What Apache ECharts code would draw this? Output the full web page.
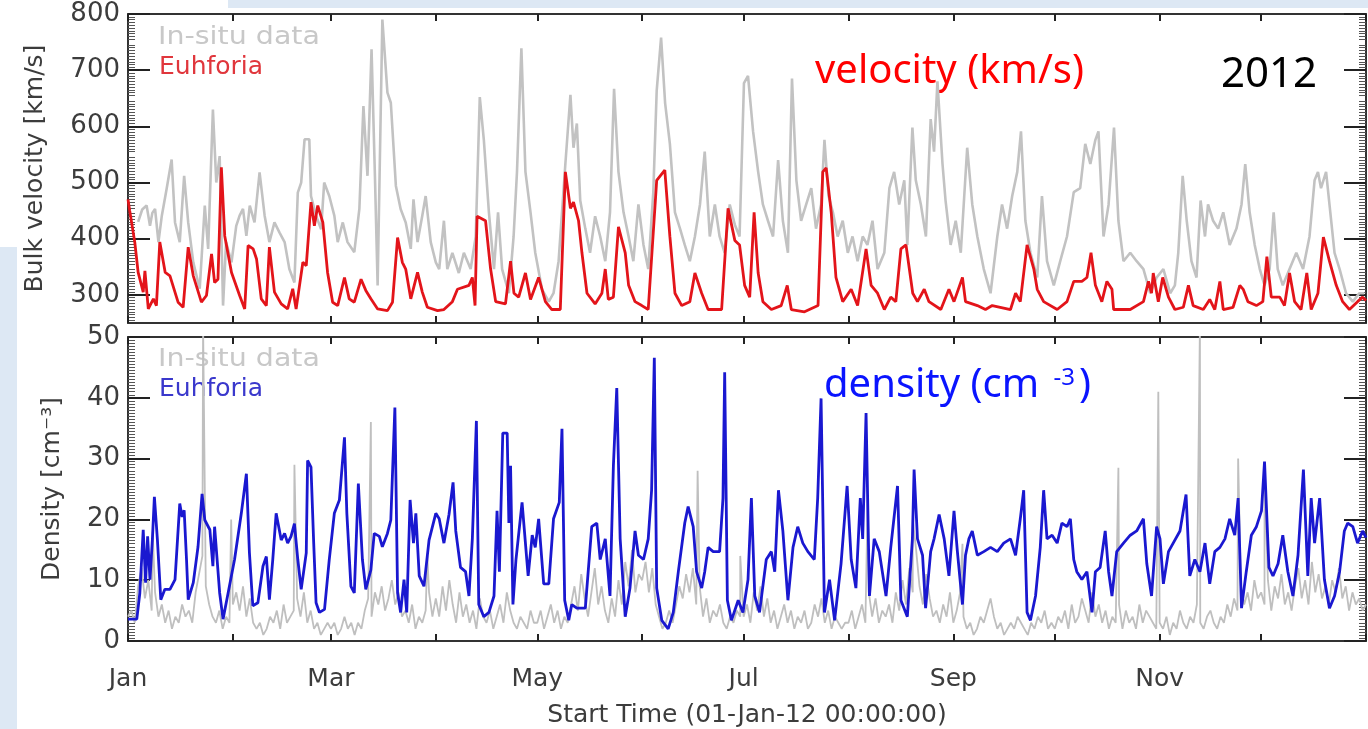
<!DOCTYPE html>
<html>
<head>
<meta charset="utf-8">
<script src="https://cdn.jsdelivr.net/npm/echarts@6/dist/echarts.min.js"></script>
<style>
  html, body { margin: 0; padding: 0; background: #fff; }
  #main { width: 1368px; height: 729px; }
</style>
</head>
<body>
<div id="main"></div>
<script>
// x values are day of year 2012 (0 = 1 Jan)
var monthStarts = [0, 31, 60, 91, 121, 152, 182, 213, 244, 274, 305, 335, 366];
var labelDays = [0, 60, 121, 182, 244, 305];
var labelNames = ['Jan', 'Mar', 'May', 'Jul', 'Sep', 'Nov'];
var velTicks = [300, 400, 500, 600, 700, 800];
var densTicks = [0, 10, 20, 30, 40, 50];

// bulk velocity, model (red)
var velocityEuhforia = [
  [0,470],[0.5,450],[2,394],[3,340],[4.5,305],[5,343],[6,275],[7.5,293],[8.4,281],[9.4,394],[11,340],[12.4,334],
  [14.8,287],[16.3,278],[17.8,385],[19.3,334],[21.7,287],[23.2,299],[24.7,373],[25.6,322],[26.6,328],[27.6,527],
  [28.6,405],[30.6,340],[33,299],[34.5,275],[35.5,388],[37,382],[38,364],[39.4,293],[40.9,281],[41.8,385],[43.3,305],
  [45.3,284],[47.2,275],[48.7,311],[49.7,275],[51.7,358],[52.7,352],[54.1,465],[55.1,423],[56.1,459],[57.6,429],
  [59,340],[60.5,287],[62,281],[64,331],[65.4,293],[66.9,287],[68.9,328],[70.3,308],[71.8,293],[73.8,275],[76.7,272],
  [78.2,287],[79.7,402],[81.1,358],[82.1,346],[83.6,293],[85.6,340],[87,305],[88.5,278],[91.5,272],[93.4,274],
  [95.9,288],[97.4,310],[100.8,317],[101.8,331],[102.6,281],[103.2,440],[105.7,432],[107.2,346],[108.7,288],
  [111.6,284],[113.1,360],[114.1,303],[115.5,296],[117.5,339],[119,292],[121.4,331],[123.4,288],[125.3,274],
  [127.8,274],[129.3,519],[130.8,454],[131.7,465],[133.2,432],[134.2,375],[135.7,303],[138.1,284],[140.1,303],
  [141.1,346],[142,292],[143.5,296],[145,421],[147,375],[148,317],[149.9,288],[151.9,281],[153.8,274],[156.3,504],
  [158.7,522],[160.2,404],[161.7,303],[163.7,281],[166.1,288],[167.6,339],[169.6,303],[171.5,274],[175.5,274],
  [177.4,454],[179.4,397],[180.8,389],[182.3,317],[183.8,296],[185.1,447],[186.3,339],[187.7,288],[190.2,274],
  [193.1,281],[194.9,317],[196.1,274],[200,270],[204,281],[205.4,519],[206.4,526],[207.9,447],[209.3,331],
  [211.3,288],[213.8,310],[215.7,281],[218.2,382],[219.7,317],[221.6,303],[223.6,274],[225.5,296],[227,288],
  [228.5,382],[230,389],[231,346],[232,303],[233.4,288],[235.4,310],[236.8,288],[240.3,274],[242.7,310],[244.2,288],
  [246.7,331],[247.6,288],[251.1,281],[253.5,274],[255.5,281],[260.9,274],[262.4,303],[263.8,288],[265.8,389],
  [267.8,346],[268.8,310],[270.7,288],[274.7,274],[277.6,288],[279.6,324],[282,324],[283.5,331],[284.7,375],
  [286,317],[287.9,288],[289.4,324],[290.9,310],[291.4,274],[296.3,274],[300.2,288],[301.7,324],[302.6,303],
  [303.1,339],[304.6,288],[305.9,331],[307.6,296],[309.5,274],[312,278],[313.5,317],[314.9,281],[317.9,274],
  [319.8,292],[321.3,274],[322.8,324],[323.8,274],[326.7,278],[328.7,317],[329.7,310],[331.1,288],[333.6,281],
  [335.5,288],[336.7,368],[338,296],[340.5,296],[341.9,281],[343.4,339],[344.9,288],[346.8,274],[348.5,339],
  [349.8,274],[351.8,303],[353.4,403],[355.2,360],[357.2,317],[359.1,288],[361.1,274],[363.5,288],[365,296],[366,290]
];

// bulk velocity, in-situ (grey)
var velocityInsitu = [
  [3,430],[4.2,452],[5.5,459],[6.5,423],[7.2,446],[8,453],[9,394],[10,441],[11.4,488],[12.9,541],[13.9,429],
  [15.3,394],[16.6,512],[17.8,429],[19.3,358],[21.2,311],[22.7,459],[23.7,382],[25.1,630],[26.1,500],[27.1,547],
  [28.1,281],[29,394],[30.6,358],[32,423],[33,441],[34,453],[35,405],[36,459],[37.4,429],[38.9,518],[40.4,441],
  [41.8,394],[43.3,429],[44.8,411],[46.3,394],[47.7,346],[49.2,322],[50.2,482],[51.2,500],[52.2,577],[53.6,577],
  [54.1,476],[55.6,441],[57.1,417],[58,500],[59.5,476],[61,441],[62,394],[63.5,429],[64.9,394],[66.9,376],
  [68.4,453],[69.6,636],[70.8,512],[72,737],[73,512],[73.8,317],[75.2,790],[76.7,660],[77.7,642],[79.2,494],
  [80.6,453],[82.1,429],[83.6,382],[84.4,470],[85.6,394],[87,441],[88,476],[89.5,394],[91,358],[92,346],
  [93.4,432],[94.4,346],[95.9,375],[97.8,339],[99.3,375],[101.3,346],[102.8,404],[104,652],[105.2,576],
  [106.7,447],[108.2,346],[109.4,447],[110.6,346],[112.6,303],[114,404],[115,519],[116.3,739],[117.5,519],
  [119,447],[120.4,375],[122.4,310],[124.4,288],[125.8,303],[127.3,360],[129.3,533],[130.8,656],[131.7,562],
  [132.7,605],[133.7,468],[135.2,418],[136.6,375],[138.1,440],[139.6,404],[141.1,360],[142.5,447],[143.7,667],
  [145,519],[146.5,447],[148,404],[149.4,360],[150.9,461],[152.4,389],[153.8,346],[155.3,483],[156.3,663],
  [157.6,758],[158.8,641],[160.2,569],[161.7,447],[163.2,418],[164.6,389],[166.1,360],[167.6,404],[169.1,461],
  [170.5,555],[172,404],[173.5,461],[174.9,404],[176.4,375],[177.9,461],[179.4,425],[180.8,404],[182.1,677],
  [183.3,690],[184.8,591],[186.3,519],[187.7,461],[189.2,432],[190.7,404],[192.2,540],[193.6,432],[195.1,375],
  [196.3,685],[197.6,504],[199,432],[200.5,461],[202,490],[203.4,418],[204.9,461],[205.9,576],[207.1,476],
  [208.4,447],[209.8,404],[211.3,432],[212.8,375],[214.2,404],[215.7,360],[217.2,404],[218.6,389],[220.1,432],
  [221.6,346],[223.6,375],[225.1,490],[226.5,519],[228,461],[229.5,504],[230.4,389],[231.9,598],[232.9,504],
  [234.4,461],[235.9,404],[237.3,613],[238.3,555],[239.3,680],[240.8,533],[241.7,468],[243.2,389],[244.7,432],
  [246.2,375],[248.1,562],[249.6,461],[251.1,404],[253,346],[255,303],[257,404],[258.4,461],[259.9,418],
  [261.4,476],[262.9,519],[264,591],[265.3,432],[266.8,375],[268.8,331],[270.2,476],[271.7,360],[273.7,317],
  [275.6,360],[277.6,404],[279.6,483],[281.5,490],[283,569],[284.5,533],[286,576],[286.9,591],[288.4,404],
  [289.9,461],[291.5,598],[292.8,432],[294.3,360],[296.3,375],[298.2,360],[300.2,346],[302.2,303],[304.1,331],
  [306.1,346],[308.1,303],[309.5,317],[310.5,375],[311.8,512],[313,432],[314.4,360],[315.9,331],[317.1,468],
  [318.4,404],[319.3,461],[320.8,432],[322.3,418],[323.8,447],[325.7,389],[327.7,418],[329.2,461],[330.3,533],
  [331.6,447],[333.1,389],[334.6,346],[336,317],[337.5,346],[338.7,447],[339.9,346],[341.4,317],[343.4,346],
  [345.4,375],[347.4,346],[349.3,404],[350.8,504],[351.8,519],[352.7,490],[354.2,519],[355.2,461],[356.7,375],
  [358.2,346],[360.1,303],[362.1,288],[364,303],[365.5,303]
];

// density, model (blue)
var densityEuhforia = [
  [0,3.6],[1.1,3.6],[2.6,3.6],[3.5,7.9],[4.5,18.3],[5.2,9.6],[5.8,17.2],[6.5,10.1],[7.2,16.6],[7.8,23.7],[8.7,16.6],
  [9.7,6.8],[10.9,8.5],[12.4,8.5],[13.9,10.1],[15.3,22.6],[16,20.4],[16.6,21.5],[17.3,13.4],[17.8,6.8],[19.3,9.6],
  [20.7,15.5],[21.9,24.2],[22.7,19.9],[24.2,18.3],[25.1,12.3],[25.6,18.8],[27.1,7.9],[28.1,3.6],[29.6,7.9],
  [31.5,13.4],[33.5,21],[35,27.5],[35.9,14.5],[36.9,5.8],[38.4,6.3],[39.9,12.3],[40.9,13.9],[41.8,6.8],[42.8,13.4],
  [43.8,21],[45.3,16.6],[46.3,17.7],[47.2,16.1],[48.2,17.2],[49.2,19.3],[50.2,13.4],[51.2,8.5],[52.7,14.5],
  [53.1,29.7],[54.1,28.6],[54.9,16.1],[55.6,6.3],[56.6,4.7],[58.1,5.2],[59.5,13.4],[61,21],[62.5,23.2],[64,33.5],
  [64.7,21],[65.9,9],[66.9,7.9],[68.1,25.9],[69.3,13.4],[70.3,8.5],[71.8,11.7],[72.8,17.7],[74.3,17.2],[75.2,15.5],
  [76.7,17.7],[77.7,19.9],[78.9,38.4],[79.7,7.9],[80.6,4.7],[81.6,10.1],[82.4,4.7],[83.4,23.2],[84.4,16.1],
  [85.1,21],[86.1,10.7],[87.5,9],[89,16.6],[91,21],[92,20.1],[93.4,16.1],[94.9,20.8],[96.1,26.1],[96.9,18.1],
  [98.3,12.1],[99.8,11.4],[100.8,7.4],[101.8,16.8],[103,36.2],[103.7,6],[105.2,4],[106.7,4.7],[108.2,7.4],
  [109.1,21.4],[109.8,11.4],[110.8,34.2],[112.1,34.2],[112.6,19.4],[113.1,28.8],[113.8,6],[114.7,13.4],
  [116.5,22.8],[118.3,10.7],[119.5,17.4],[120.4,15.4],[121.4,20.1],[122.9,9.4],[124.4,9.4],[125.8,20.1],
  [127.5,22.8],[128.3,34.9],[129.1,6.7],[130.3,3.4],[131.2,6],[132.7,5.4],[135.2,5.4],[137.1,18.8],[138.6,19.4],
  [139.6,13.4],[141.1,16.8],[142.5,7.4],[143.5,28.8],[144.5,41.6],[145.5,16.8],[147,4],[148.4,8.7],[149.9,18.1],
  [150.9,14.1],[152.4,13.4],[153.8,16.8],[154.8,24.8],[155.6,46.6],[156.3,8.7],[157.8,3.4],[159.7,2],[161.2,4.7],
  [162.7,11.4],[164.6,19.4],[165.6,22.1],[167.1,18.8],[168.1,11.4],[169.6,8.7],[170.5,11.4],[171.5,15.4],
  [173,14.7],[174.9,14.7],[175.9,23.5],[176.4,44.2],[177.2,6.7],[178.4,3.4],[180.4,6.7],[181.8,4.7],[183.3,10.1],
  [184.3,23.5],[185.3,7.4],[186.7,4.7],[188.7,13.4],[190.2,14.7],[191.2,11.4],[192.3,24.8],[193.6,18.1],
  [195.1,6.7],[196.6,15.4],[198,18.8],[199.5,16.1],[201,14.7],[202.9,13.4],[203.9,23.5],[204.9,39.9],[205.9,4.7],
  [207.4,10.1],[208.9,3.4],[210.8,12.7],[212.6,25.5],[213.8,13.4],[215.2,8.7],[216.5,23.5],[217.2,16.8],
  [218.2,37.5],[219.2,7.4],[220.6,16.8],[222.1,14.7],[224.1,7.4],[225.5,15.4],[227.5,25.5],[228.5,6.7],
  [230.4,4],[231.9,16.8],[232.4,28.2],[233.4,16.8],[234.9,14.1],[235.8,5.4],[237.3,14.7],[238.3,16.8],
  [239.8,20.8],[241.3,16.8],[242.7,10.7],[244.2,21.4],[245.2,14.7],[246.7,6],[247.6,14.1],[248.6,16.8],
  [249.6,18.1],[251.1,14.1],[253,14.7],[255,15.4],[257,14.7],[258.9,16.1],[260.9,16.8],[262.4,14.1],[263.8,20.1],
  [264.8,24.8],[265.8,4.7],[266.8,3.4],[268.3,7.4],[269.7,15.4],[270.7,24.8],[271.7,16.8],[273.2,17.4],
  [274.7,16.1],[276.1,19.4],[277.6,18.8],[278.6,20.1],[279.6,13.4],[280.5,11.4],[282,10.1],[283.5,11.4],
  [285,4.7],[286,11.4],[287.4,12.1],[288.9,18.1],[289.9,11.4],[290.9,7.4],[292.3,14.7],[294.3,16.1],[296.3,17.4],
  [298.2,18.1],[300.2,20.1],[301.2,12.7],[302.6,7.4],[304.1,18.8],[305.1,16.8],[306.1,9.4],[307.6,14.7],
  [309,16.1],[311,18.1],[312.8,24.1],[313.9,10.7],[315.4,13.4],[316.9,11.4],[318.4,16.1],[319.8,9.4],[321.3,14.7],
  [322.8,15.4],[324.3,16.8],[325.7,20.1],[327.2,17.4],[328.2,23.5],[329.2,5.4],[330.6,11.4],[332.1,17.4],
  [333.6,18.8],[335.1,21.4],[336,29.5],[337.3,12.1],[338.5,10.7],[340,12.7],[341.4,17.4],[342.9,11.4],
  [344.4,7.4],[345.9,14.1],[347.5,28.2],[348.8,10.7],[349.8,23.5],[350.8,16.1],[352.3,23.5],[353.7,10.1],
  [355.2,5.4],[356.7,7.4],[358.2,11.4],[359.6,18.1],[360.6,19.4],[362.1,18.8],[363.5,16.1],[365,18.1],[366,17]
];

// density, in-situ (grey): one reading per day, month by month, plus short spikes
var densInsituJan = [4,5,3,9,12,7,10,5,8,4,6,3,5,2,4,3,6,4,5,3,8,11,14,9,6,4,3,5,2,4,3];
var densInsituFeb = [6,8,5,9,4,7,3,2,3,1,2,4,3,5,2,6,3,4,5,7,4,8,3,5,2,3,1,2,3];
var densInsituMar = [2,3,1,2,4,2,3,1,3,2,5,7,4,8,6,9,5,7,10,6,8,4,5,3,6,2,4,3,5,8,4];
var densInsituApr = [7,4,9,5,10,6,3,8,4,6,3,5,2,7,4,3,5,2,4,6,3,8,5,3,2,4,3,2,5,3];
var densInsituMay = [3,5,2,4,6,3,5,2,4,3,6,9,5,11,7,4,8,12,6,9,5,3,7,4,10,6,13,9,15,8,11];
var densInsituJun = [10,13,8,12,6,4,2,3,5,3,6,9,7,11,8,12,6,9,4,7,3,5,4,6,3,2,4,3,5,4];
var densInsituJul = [4,6,3,8,5,9,4,7,3,5,2,4,6,3,5,2,4,3,5,2,3,6,4,7,3,5,2,4,3,2,3];
var densInsituAug = [3,5,2,4,6,3,8,4,7,3,5,4,6,3,8,5,10,6,12,8,15,9,6,11,7,4,5,3,6,4,8];
var densInsituSep = [3,5,8,4,2,3,1,2,4,3,5,7,4,2,3,1,2,3,2,4,3,2,1,3,2,4,3,5,2,3];
var densInsituOct = [2,4,3,5,2,6,3,4,7,5,3,8,4,6,3,5,2,4,3,6,2,5,3,4,2,6,3,5,4,3,2];
var densInsituNov = [3,2,4,1,3,2,5,3,2,4,3,6,3,2,4,5,3,2,4,3,6,4,7,5,9,6,8,5,10,7];
var densInsituDec = [8,6,10,5,9,7,11,6,8,5,9,12,7,10,6,13,8,11,7,9,6,10,8,12,7,9,5,8,6,7,5,6];
var densInsituSpikes = [
  [7.3,18],[22.2,52],[30.5,20],[49.2,29],[71.8,36],[88.5,14],[168.4,28],[181,14],[218.7,24],
  [232,20],[246.7,16],[292.8,28.5],[304.6,41],[316.9,52],[328.2,30],[336,28]
];

var densInsituDaily = [].concat(densInsituJan, densInsituFeb, densInsituMar, densInsituApr,
  densInsituMay, densInsituJun, densInsituJul, densInsituAug, densInsituSep, densInsituOct,
  densInsituNov, densInsituDec);
var densityInsitu = densInsituDaily.map(function (v, i) { return [i, v]; })
  .concat(densInsituSpikes)
  .sort(function (a, b) { return a[0] - b[0]; });

var FONT = 'DejaVu Sans';
var AXIS_COL = '#333';
var TXT_COL = '#3c3c3c';

function xAx(grid, pos, withLabels) {
  return {
    type: 'value', gridIndex: grid, position: pos, min: 0, max: 366,
    axisLine: { show: true, onZero: false, lineStyle: { color: AXIS_COL, width: 2 } },
    axisTick: { show: true, inside: true, length: 7, customValues: monthStarts, lineStyle: { color: '#222', width: 2 } },
    axisLabel: withLabels ? {
      show: true, customValues: labelDays, margin: 26,
      fontFamily: FONT, fontSize: 25, color: TXT_COL,
      formatter: function (v) { var i = labelDays.indexOf(v); return i >= 0 ? labelNames[i] : ''; }
    } : { show: false },
    splitLine: { show: false },
    name: withLabels ? 'Start Time (01-Jan-12 00:00:00)' : '',
    nameLocation: 'middle', nameGap: 62,
    nameTextStyle: { fontFamily: FONT, fontSize: 25, color: TXT_COL }
  };
}

function yAx(grid, pos, min, max, interval, ticks, minorSplit, name, nameGap) {
  var left = pos === 'left';
  return {
    type: 'value', gridIndex: grid, position: pos, min: min, max: max, interval: interval,
    axisLine: { show: true, onZero: false, lineStyle: { color: AXIS_COL, width: 2 } },
    axisTick: { show: true, inside: true, length: 22, customValues: ticks, lineStyle: { color: '#222', width: 2 } },
    minorTick: { show: true, splitNumber: minorSplit, length: 7, lineStyle: { color: '#555', width: 1 } },
    axisLabel: left ? { show: true, customValues: ticks, margin: 8, fontFamily: FONT, fontSize: 26, color: TXT_COL } : { show: false },
    splitLine: { show: false },
    name: left ? name : '', nameLocation: 'middle', nameGap: nameGap, nameRotate: 90,
    nameTextStyle: { fontFamily: FONT, fontSize: 25, color: TXT_COL }
  };
}

var chart = echarts.init(document.getElementById('main'), null, { renderer: 'canvas' });

var option = {
  animation: false,
  backgroundColor: '#ffffff',
  grid: [
    { left: 128, width: 1238, top: 14, height: 309 },
    { left: 128, width: 1238, top: 337, height: 306 }
  ],
  xAxis: [
    xAx(0, 'bottom', false), xAx(0, 'top', false),
    xAx(1, 'bottom', true), xAx(1, 'top', false)
  ],
  yAxis: [
    yAx(0, 'left', 250, 800, 50, velTicks, 10, 'Bulk velocity [km/s]', 80),
    yAx(0, 'right', 250, 800, 50, velTicks, 10, '', 0),
    yAx(1, 'left', 0, 50, 10, densTicks, 20, 'Density [cm\u207B\u00B3]', 63),
    yAx(1, 'right', 0, 50, 10, densTicks, 20, '', 0)
  ],
  series: [
    { name: 'In-situ data', type: 'line', xAxisIndex: 0, yAxisIndex: 0, data: velocityInsitu,
      showSymbol: false, lineStyle: { color: '#c2c2c2', width: 2.6 }, z: 1 },
    { name: 'Euhforia', type: 'line', xAxisIndex: 0, yAxisIndex: 0, data: velocityEuhforia,
      showSymbol: false, lineStyle: { color: '#e3141a', width: 2.8 }, z: 2 },
    { name: 'In-situ data', type: 'line', xAxisIndex: 2, yAxisIndex: 2, data: densityInsitu,
      showSymbol: false, lineStyle: { color: '#bfbfbf', width: 1.8 }, z: 1 },
    { name: 'Euhforia', type: 'line', xAxisIndex: 2, yAxisIndex: 2, data: densityEuhforia,
      showSymbol: false, lineStyle: { color: '#1a18d0', width: 2.8 }, z: 2 }
  ],
  graphic: [
    { type: 'rect', left: 228, top: 0, shape: { width: 1140, height: 8 }, style: { fill: '#dde8f4' }, z: -10 },
    { type: 'rect', left: 0, top: 247, shape: { width: 17, height: 482 }, style: { fill: '#dde8f4' }, z: -10 },
    { type: 'text', x: 158, y: 25, scaleX: 1.14, style: { text: 'In-situ data', fontFamily: FONT, fontSize: 25, fill: '#c8c8c8' } },
    { type: 'text', x: 159, y: 55, style: { text: 'Euhforia', fontFamily: FONT, fontSize: 25, fill: '#e0363c' } },
    { type: 'text', x: 158, y: 347, scaleX: 1.14, style: { text: 'In-situ data', fontFamily: FONT, fontSize: 25, fill: '#c8c8c8' } },
    { type: 'text', x: 159, y: 377, style: { text: 'Euhforia', fontFamily: FONT, fontSize: 25, fill: '#3a38cc' } },
    { type: 'text', left: 815, top: 52, style: { text: 'velocity (km/s)', fontFamily: 'Noto Sans', fontSize: 40, fill: '#ff0000' } },
    { type: 'text', left: 1221, top: 54, style: { text: '2012', fontFamily: 'Noto Sans', fontSize: 42, fill: '#000000' } },
    { type: 'text', left: 824, top: 366, style: {
        text: '{a|density (cm }{s|-3}{a|)}',
        rich: {
          a: { fontFamily: 'Noto Sans', fontSize: 40, fill: '#0a14ff', color: '#0a14ff' },
          s: { fontFamily: 'Noto Sans', fontSize: 24, fill: '#0a14ff', color: '#0a14ff', verticalAlign: 'top', padding: [0, 4, 16, 4] }
        }
      } }
  ]
};

chart.setOption(option);
</script>
</body>
</html>
